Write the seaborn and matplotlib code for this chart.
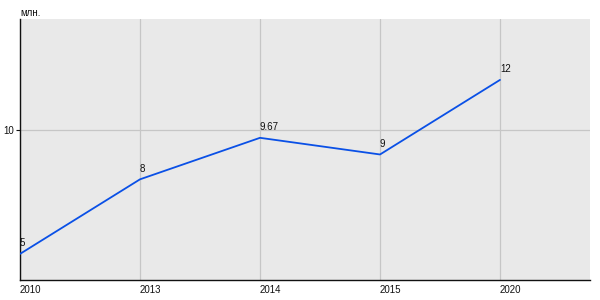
import matplotlib
matplotlib.use("Agg")
import matplotlib.pyplot as plt
import seaborn as sns
import pandas as pd

years = ["2010", "2013", "2014", "2015", "2020"]
values = [5, 8, 9.67, 9, 12]
value_labels = ["5", "8", "9.67", "9", "12"]
y_ticks = [10]
y_unit = "млн."

sns.set_style("white")
plt.rcParams['font.family'] = ['Liberation Sans', 'DejaVu Sans']

df = pd.DataFrame({"pos": range(len(years)), "value": values})

fig = plt.figure(figsize=(6, 3), dpi=100)
ax = fig.add_axes([20/600, 20/300, 570/600, 261/300])
ax.set_facecolor("#e9e9e9")

for i in range(len(years)):
    ax.axvline(i, color="#c6c6c6", lw=0.9, zorder=1)
for t in y_ticks:
    ax.axhline(t, color="#c6c6c6", lw=0.9, zorder=1)

sns.lineplot(data=df, x="pos", y="value", ax=ax, color="#0a50e6", lw=1.3, zorder=3)

for i, (v, lab) in enumerate(zip(values, value_labels)):
    ax.annotate(lab, (i, v), xytext=(0, 4), textcoords="offset points",
                ha="left", va="bottom", fontsize=7, color="#111111")

ax.set_xlim(0, 4.75)
ax.set_ylim(3.95, 14.45)
ax.set_xticks(range(len(years)))
ax.set_xticklabels(years, ha="left")
ax.set_yticks(y_ticks)
ax.set_yticklabels([str(t) for t in y_ticks])
ax.tick_params(axis="x", length=0, pad=3.5, labelsize=7, colors="#111111")
ax.tick_params(axis="y", length=3, width=0.8, pad=1.5, labelsize=7, colors="#111111", direction="out", left=True)
ax.set_xlabel("")
ax.set_ylabel("")
for s in ["top", "right"]:
    ax.spines[s].set_visible(False)
for s in ["left", "bottom"]:
    ax.spines[s].set_color("#111111")
    ax.spines[s].set_linewidth(1.0)

fig.text(20/600, 1 - 13/300, y_unit, fontsize=7, color="#111111", ha="left", va="center")

fig.savefig("out.png", dpi=100)
